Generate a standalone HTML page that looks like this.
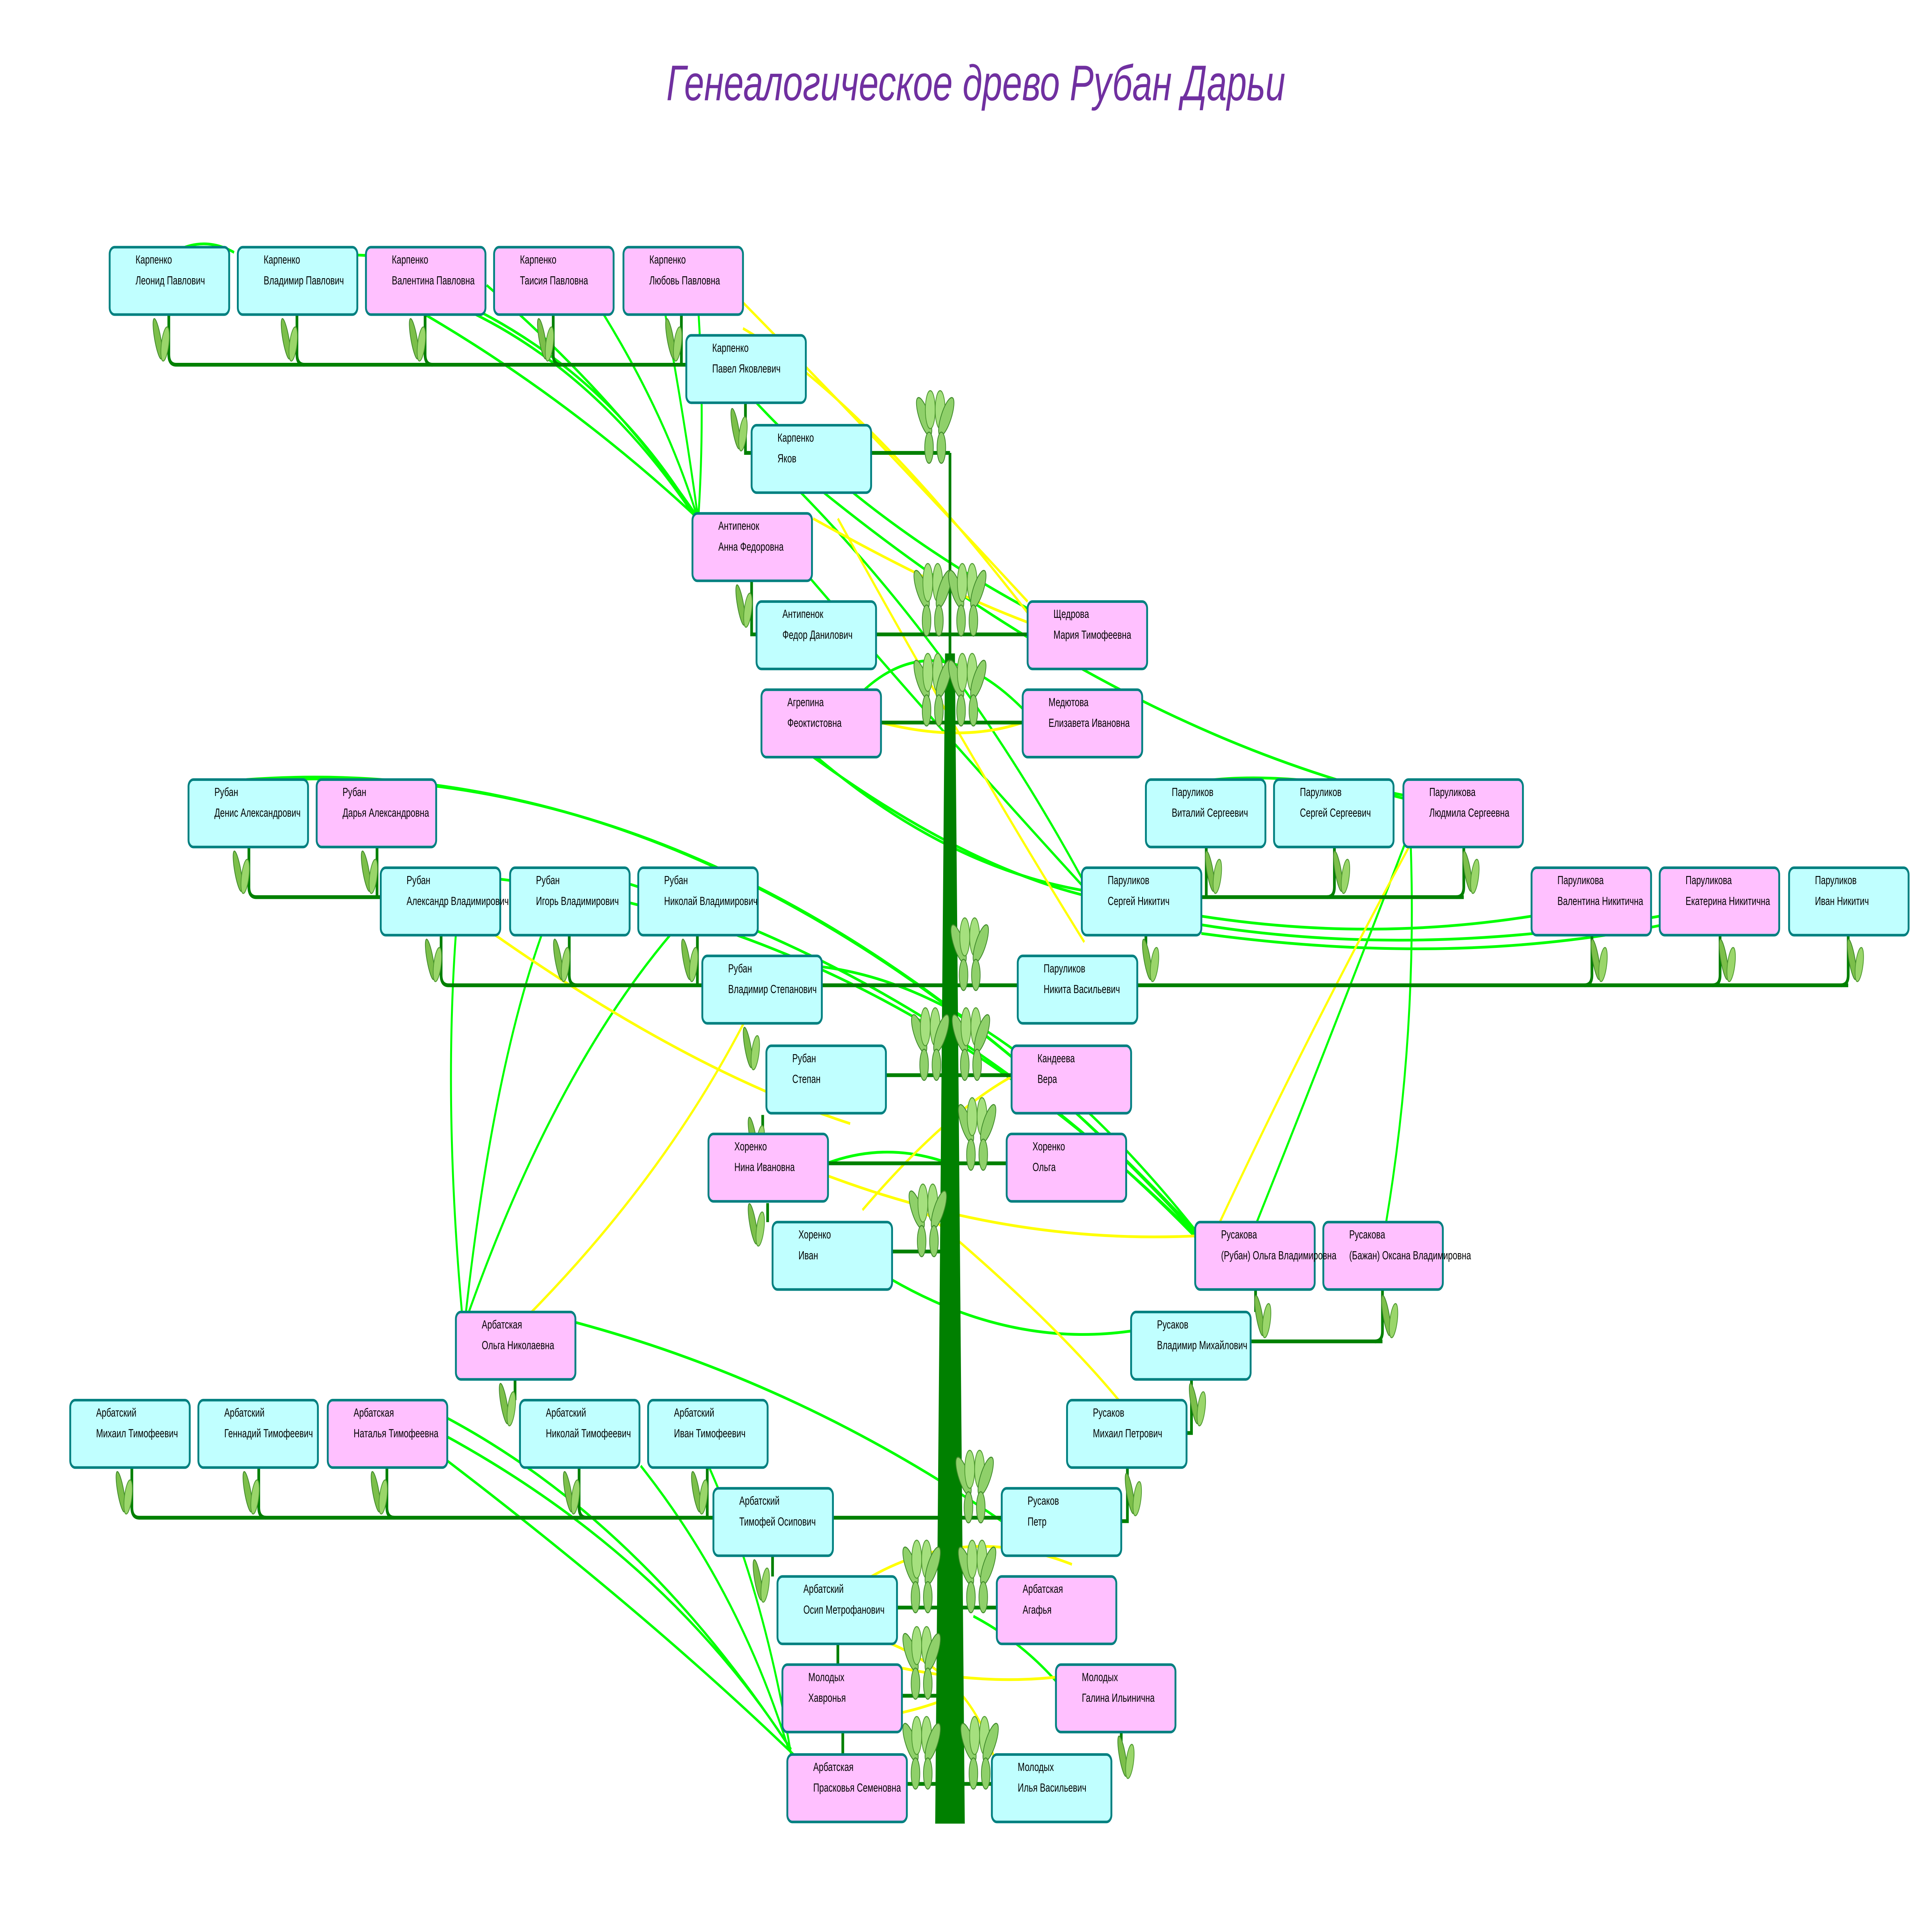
<!DOCTYPE html>
<html><head><meta charset="utf-8"><style>
html,body{margin:0;padding:0;background:#fff;width:100%;height:100%;overflow:hidden;}
svg{display:block;width:100vw;height:100vh;position:absolute;left:0;top:0;}
text{font-family:"Liberation Sans","DejaVu Sans",sans-serif;}
</style></head><body>
<svg xmlns="http://www.w3.org/2000/svg" viewBox="0 0 1568 1109" preserveAspectRatio="none">
<defs>
<g id="lf">
<ellipse cx="-3" cy="-12" rx="2.5" ry="12" fill="#7cbf4a" stroke="#3f8a2a" stroke-width="0.6" transform="rotate(-14 -3 -12)"/>
<ellipse cx="3" cy="-9" rx="3" ry="10" fill="#9ad66a" stroke="#4f9a30" stroke-width="0.6" transform="rotate(10 3 -9)"/>
</g>
<g id="cl">
<ellipse cx="-9" cy="-14" rx="4" ry="12" fill="#8fd06a" stroke="#3f8a2a" stroke-width="0.6" transform="rotate(-25 -9 -14)"/>
<ellipse cx="-4" cy="-18" rx="4" ry="11" fill="#a5e07e" stroke="#4f9a30" stroke-width="0.6"/>
<ellipse cx="4" cy="-18" rx="4" ry="11" fill="#a5e07e" stroke="#4f9a30" stroke-width="0.6"/>
<ellipse cx="9" cy="-14" rx="4" ry="12" fill="#8fd06a" stroke="#3f8a2a" stroke-width="0.6" transform="rotate(25 9 -14)"/>
<ellipse cx="-5" cy="4" rx="3.5" ry="9" fill="#8fd06a" stroke="#3f8a2a" stroke-width="0.6"/>
<ellipse cx="5" cy="4" rx="3.5" ry="9" fill="#8fd06a" stroke="#3f8a2a" stroke-width="0.6"/>
</g>
</defs>

<text x="792" y="58" text-anchor="middle" font-size="29" font-style="italic" fill="#7030a0">Генеалогическое древо Рубан Дарьи</text>

<g fill="none" stroke-width="1.6">
<g stroke="#00ff00">
<path d="M150,143 Q170,138 190,146"/>
<path d="M260,145 Q300,150 330,146"/>
<path d="M345,182 Q460,230 562,297"/>
<path d="M365,175 Q480,210 563,298"/>
<path d="M395,165 Q500,230 564,297"/>
<path d="M300,155 Q470,190 562,296"/>
<path d="M490,182 Q540,240 565,297"/>
<path d="M540,182 Q555,240 566,297"/>
<path d="M567,182 Q572,240 567,297"/>
<path d="M660,280 Q900,420 1140,462"/>
<path d="M650,285 Q780,380 878,508"/>
<path d="M640,320 Q760,420 878,512"/>
<path d="M610,230 Q700,300 834,352"/>
<path d="M650,430 Q760,500 878,515"/>
<path d="M660,438 Q780,500 880,518"/>
<path d="M700,400 Q760,360 830,410"/>
<path d="M200,451 Q600,430 970,712"/>
<path d="M230,451 Q620,440 972,715"/>
<path d="M350,505 Q700,520 975,718"/>
<path d="M480,505 Q760,560 976,720"/>
<path d="M600,560 Q780,540 975,716"/>
<path d="M375,760 Q360,640 370,540"/>
<path d="M378,760 Q400,620 440,540"/>
<path d="M380,760 Q450,620 545,540"/>
<path d="M467,765 Q650,800 813,880"/>
<path d="M362,820 Q520,880 640,1010"/>
<path d="M360,830 Q540,900 642,1012"/>
<path d="M350,838 Q520,930 644,1015"/>
<path d="M520,848 Q600,920 640,1012"/>
<path d="M575,848 Q620,920 642,1015"/>
<path d="M723,740 Q820,780 918,770"/>
<path d="M671,673 Q720,660 770,673"/>
<path d="M1145,490 Q1150,600 1125,707"/>
<path d="M1150,470 Q1080,600 1020,707"/>
<path d="M975,530 Q1110,545 1243,530"/>
<path d="M975,535 Q1150,555 1347,530"/>
<path d="M975,540 Q1180,560 1350,535"/>
<path d="M930,460 Q1000,440 1139,460"/>
<path d="M860,975 Q830,950 790,935"/>
</g>
<g stroke="#ffff00">
<path d="M603,175 Q720,260 834,348"/>
<path d="M603,190 Q700,230 840,360"/>
<path d="M660,300 Q760,340 834,360"/>
<path d="M680,300 Q780,430 880,545"/>
<path d="M715,418 Q780,430 830,418"/>
<path d="M400,540 Q560,620 690,650"/>
<path d="M430,760 Q540,680 605,590"/>
<path d="M671,680 Q820,720 970,715"/>
<path d="M1145,488 Q1060,600 990,707"/>
<path d="M700,700 Q820,600 900,610"/>
<path d="M740,695 Q850,760 908,810"/>
<path d="M700,915 Q780,880 870,905"/>
<path d="M732,965 Q800,975 860,970"/>
<path d="M650,990 Q700,1000 760,985"/>
<path d="M720,950 Q790,970 808,1020"/>
</g>
</g>

<g fill="none" stroke="#008000" stroke-width="2.2">
<path d="M771,262 L771,380"/>
<path d="M707,262 L771,262"/>
<path d="M711,367 L834,367"/>
<path d="M715,418 L830,418"/>
<path d="M667,570 L826,570"/>
<path d="M719,622 L821,622"/>
<path d="M671,673 L817,673"/>
<path d="M723,724 L771,724"/>
<path d="M675,878 L813,878"/>
<path d="M728,930 L809,930"/>
<path d="M732,981 L771,981"/>
<path d="M736,1032 L805,1032"/>
<path d="M137,182 L137,205 Q137,211 143,211 L557,211"/>
<path d="M241,182 L241,205 Q241,211 247,211"/>
<path d="M345,182 L345,205 Q345,211 351,211"/>
<path d="M449,182 L449,205 Q449,211 455,211"/>
<path d="M553,182 L553,211"/>
<path d="M605,233 L605,262 L610,262"/>
<path d="M610,336 L610,367 L614,367"/>
<path d="M202,490 L202,513 Q202,519 208,519 L309,519"/>
<path d="M306,490 L306,519"/>
<path d="M358,541 L358,564 Q358,570 364,570 L570,570"/>
<path d="M462,541 L462,564 Q462,570 468,570"/>
<path d="M566,541 L566,570"/>
<path d="M975,519 L1188,519"/>
<path d="M979,490 L979,519"/>
<path d="M1083,490 L1083,513 Q1083,519 1077,519"/>
<path d="M1188,490 L1188,513 Q1188,519 1182,519"/>
<path d="M930,541 L930,553"/>
<path d="M923,570 L1500,570"/>
<path d="M1292,541 L1292,564 Q1292,570 1286,570"/>
<path d="M1396,541 L1396,564 Q1396,570 1390,570"/>
<path d="M1500,541 L1500,564 Q1500,570 1494,570"/>
<path d="M1015,776 L1122,776"/>
<path d="M1122,746 L1122,770 Q1122,776 1116,776"/>
<path d="M1019,746 L1019,759"/>
<path d="M963,829 L967,829 L967,798"/>
<path d="M910,880 L915,880 L915,849"/>
<path d="M107,849 L107,872 Q107,878 113,878 L579,878"/>
<path d="M210,849 L210,872 Q210,878 216,878"/>
<path d="M314,849 L314,872 Q314,878 320,878"/>
<path d="M470,849 L470,872 Q470,878 476,878"/>
<path d="M574,849 L574,878"/>
<path d="M418,798 L418,810"/>
<path d="M623,696 L623,707"/>
<path d="M619,645 L619,656"/>
<path d="M627,900 L627,912"/>
<path d="M680,951 L680,963"/>
<path d="M684,1002 L684,1015"/>
<path d="M910,1002 L910,1015"/>
</g>
<polygon points="767,378 775,378 783,1055 759,1055" fill="#008000"/>

<g>
<use href="#lf" x="131" y="208"/><use href="#lf" x="235" y="208"/><use href="#lf" x="339" y="208"/><use href="#lf" x="443" y="208"/><use href="#lf" x="547" y="208"/>
<use href="#lf" x="600" y="260"/><use href="#lf" x="604" y="362"/>
<use href="#lf" x="196" y="516"/><use href="#lf" x="300" y="516"/>
<use href="#lf" x="352" y="567"/><use href="#lf" x="456" y="567"/><use href="#lf" x="560" y="567"/>
<use href="#lf" x="610" y="618"/><use href="#lf" x="614" y="720"/><use href="#lf" x="614" y="670"/>
<use href="#lf" x="985" y="516"/><use href="#lf" x="1089" y="516"/><use href="#lf" x="1194" y="516"/>
<use href="#lf" x="934" y="567"/><use href="#lf" x="1298" y="567"/><use href="#lf" x="1402" y="567"/><use href="#lf" x="1506" y="567"/>
<use href="#lf" x="1025" y="773"/><use href="#lf" x="1128" y="773"/>
<use href="#lf" x="972" y="824"/><use href="#lf" x="920" y="876"/>
<use href="#lf" x="412" y="824"/>
<use href="#lf" x="101" y="875"/><use href="#lf" x="204" y="875"/><use href="#lf" x="308" y="875"/><use href="#lf" x="464" y="875"/><use href="#lf" x="568" y="875"/>
<use href="#lf" x="618" y="926"/><use href="#lf" x="914" y="1028"/>
<use href="#cl" x="759" y="255"/>
<use href="#cl" x="757" y="355"/><use href="#cl" x="785" y="355"/>
<use href="#cl" x="757" y="407"/><use href="#cl" x="785" y="407"/>
<use href="#cl" x="787" y="560"/>
<use href="#cl" x="755" y="612"/><use href="#cl" x="788" y="612"/>
<use href="#cl" x="793" y="664"/>
<use href="#cl" x="753" y="714"/>
<use href="#cl" x="791" y="868"/>
<use href="#cl" x="748" y="920"/><use href="#cl" x="793" y="920"/>
<use href="#cl" x="748" y="970"/>
<use href="#cl" x="748" y="1022"/><use href="#cl" x="795" y="1022"/>
</g>

<g stroke="#008080" stroke-width="1.5">
<g fill="#c0ffff"><rect x="89" y="143" width="97" height="39" rx="4"/><rect x="193" y="143" width="97" height="39" rx="4"/><rect x="557" y="194" width="97" height="39" rx="4"/><rect x="610" y="246" width="97" height="39" rx="4"/><rect x="614" y="348" width="97" height="39" rx="4"/><rect x="153" y="451" width="97" height="39" rx="4"/><rect x="930" y="451" width="97" height="39" rx="4"/><rect x="1034" y="451" width="97" height="39" rx="4"/><rect x="309" y="502" width="97" height="39" rx="4"/><rect x="414" y="502" width="97" height="39" rx="4"/><rect x="518" y="502" width="97" height="39" rx="4"/><rect x="878" y="502" width="97" height="39" rx="4"/><rect x="1452" y="502" width="97" height="39" rx="4"/><rect x="570" y="553" width="97" height="39" rx="4"/><rect x="826" y="553" width="97" height="39" rx="4"/><rect x="622" y="605" width="97" height="39" rx="4"/><rect x="627" y="707" width="97" height="39" rx="4"/><rect x="918" y="759" width="97" height="39" rx="4"/><rect x="57" y="810" width="97" height="39" rx="4"/><rect x="161" y="810" width="97" height="39" rx="4"/><rect x="422" y="810" width="97" height="39" rx="4"/><rect x="526" y="810" width="97" height="39" rx="4"/><rect x="866" y="810" width="97" height="39" rx="4"/><rect x="579" y="861" width="97" height="39" rx="4"/><rect x="813" y="861" width="97" height="39" rx="4"/><rect x="631" y="912" width="97" height="39" rx="4"/><rect x="805" y="1015" width="97" height="39" rx="4"/></g>
<g fill="#ffc0ff"><rect x="297" y="143" width="97" height="39" rx="4"/><rect x="401" y="143" width="97" height="39" rx="4"/><rect x="506" y="143" width="97" height="39" rx="4"/><rect x="562" y="297" width="97" height="39" rx="4"/><rect x="834" y="348" width="97" height="39" rx="4"/><rect x="618" y="399" width="97" height="39" rx="4"/><rect x="830" y="399" width="97" height="39" rx="4"/><rect x="257" y="451" width="97" height="39" rx="4"/><rect x="1139" y="451" width="97" height="39" rx="4"/><rect x="1243" y="502" width="97" height="39" rx="4"/><rect x="1347" y="502" width="97" height="39" rx="4"/><rect x="821" y="605" width="97" height="39" rx="4"/><rect x="575" y="656" width="97" height="39" rx="4"/><rect x="817" y="656" width="97" height="39" rx="4"/><rect x="970" y="707" width="97" height="39" rx="4"/><rect x="1074" y="707" width="97" height="39" rx="4"/><rect x="370" y="759" width="97" height="39" rx="4"/><rect x="266" y="810" width="97" height="39" rx="4"/><rect x="809" y="912" width="97" height="39" rx="4"/><rect x="635" y="963" width="97" height="39" rx="4"/><rect x="857" y="963" width="97" height="39" rx="4"/><rect x="639" y="1015" width="97" height="39" rx="4"/></g>
</g>
<g font-size="6.8" fill="#000">
<text x="110" y="152.5">Карпенко</text><text x="110" y="164.5">Леонид Павлович</text>
<text x="214" y="152.5">Карпенко</text><text x="214" y="164.5">Владимир Павлович</text>
<text x="318" y="152.5">Карпенко</text><text x="318" y="164.5">Валентина Павловна</text>
<text x="422" y="152.5">Карпенко</text><text x="422" y="164.5">Таисия Павловна</text>
<text x="527" y="152.5">Карпенко</text><text x="527" y="164.5">Любовь Павловна</text>
<text x="578" y="203.5">Карпенко</text><text x="578" y="215.5">Павел Яковлевич</text>
<text x="631" y="255.5">Карпенко</text><text x="631" y="267.5">Яков</text>
<text x="583" y="306.5">Антипенок</text><text x="583" y="318.5">Анна Федоровна</text>
<text x="635" y="357.5">Антипенок</text><text x="635" y="369.5">Федор Данилович</text>
<text x="855" y="357.5">Щедрова</text><text x="855" y="369.5">Мария Тимофеевна</text>
<text x="639" y="408.5">Агрепина</text><text x="639" y="420.5">Феоктистовна</text>
<text x="851" y="408.5">Медютова</text><text x="851" y="420.5">Елизавета Ивановна</text>
<text x="174" y="460.5">Рубан</text><text x="174" y="472.5">Денис Александрович</text>
<text x="278" y="460.5">Рубан</text><text x="278" y="472.5">Дарья Александровна</text>
<text x="951" y="460.5">Паруликов</text><text x="951" y="472.5">Виталий Сергеевич</text>
<text x="1055" y="460.5">Паруликов</text><text x="1055" y="472.5">Сергей Сергеевич</text>
<text x="1160" y="460.5">Паруликова</text><text x="1160" y="472.5">Людмила Сергеевна</text>
<text x="330" y="511.5">Рубан</text><text x="330" y="523.5">Александр Владимирович</text>
<text x="435" y="511.5">Рубан</text><text x="435" y="523.5">Игорь Владимирович</text>
<text x="539" y="511.5">Рубан</text><text x="539" y="523.5">Николай Владимирович</text>
<text x="899" y="511.5">Паруликов</text><text x="899" y="523.5">Сергей Никитич</text>
<text x="1264" y="511.5">Паруликова</text><text x="1264" y="523.5">Валентина Никитична</text>
<text x="1368" y="511.5">Паруликова</text><text x="1368" y="523.5">Екатерина Никитична</text>
<text x="1473" y="511.5">Паруликов</text><text x="1473" y="523.5">Иван Никитич</text>
<text x="591" y="562.5">Рубан</text><text x="591" y="574.5">Владимир Степанович</text>
<text x="847" y="562.5">Паруликов</text><text x="847" y="574.5">Никита Васильевич</text>
<text x="643" y="614.5">Рубан</text><text x="643" y="626.5">Степан</text>
<text x="842" y="614.5">Кандеева</text><text x="842" y="626.5">Вера</text>
<text x="596" y="665.5">Хоренко</text><text x="596" y="677.5">Нина Ивановна</text>
<text x="838" y="665.5">Хоренко</text><text x="838" y="677.5">Ольга</text>
<text x="648" y="716.5">Хоренко</text><text x="648" y="728.5">Иван</text>
<text x="991" y="716.5">Русакова</text><text x="991" y="728.5">(Рубан) Ольга Владимировна</text>
<text x="1095" y="716.5">Русакова</text><text x="1095" y="728.5">(Бажан) Оксана Владимировна</text>
<text x="391" y="768.5">Арбатская</text><text x="391" y="780.5">Ольга Николаевна</text>
<text x="939" y="768.5">Русаков</text><text x="939" y="780.5">Владимир Михайлович</text>
<text x="78" y="819.5">Арбатский</text><text x="78" y="831.5">Михаил Тимофеевич</text>
<text x="182" y="819.5">Арбатский</text><text x="182" y="831.5">Геннадий Тимофеевич</text>
<text x="287" y="819.5">Арбатская</text><text x="287" y="831.5">Наталья Тимофеевна</text>
<text x="443" y="819.5">Арбатский</text><text x="443" y="831.5">Николай Тимофеевич</text>
<text x="547" y="819.5">Арбатский</text><text x="547" y="831.5">Иван Тимофеевич</text>
<text x="887" y="819.5">Русаков</text><text x="887" y="831.5">Михаил Петрович</text>
<text x="600" y="870.5">Арбатский</text><text x="600" y="882.5">Тимофей Осипович</text>
<text x="834" y="870.5">Русаков</text><text x="834" y="882.5">Петр</text>
<text x="652" y="921.5">Арбатский</text><text x="652" y="933.5">Осип Метрофанович</text>
<text x="830" y="921.5">Арбатская</text><text x="830" y="933.5">Агафья</text>
<text x="656" y="972.5">Молодых</text><text x="656" y="984.5">Хавронья</text>
<text x="878" y="972.5">Молодых</text><text x="878" y="984.5">Галина Ильинична</text>
<text x="660" y="1024.5">Арбатская</text><text x="660" y="1036.5">Прасковья Семеновна</text>
<text x="826" y="1024.5">Молодых</text><text x="826" y="1036.5">Илья Васильевич</text>
</g>
</svg>
</body></html>
